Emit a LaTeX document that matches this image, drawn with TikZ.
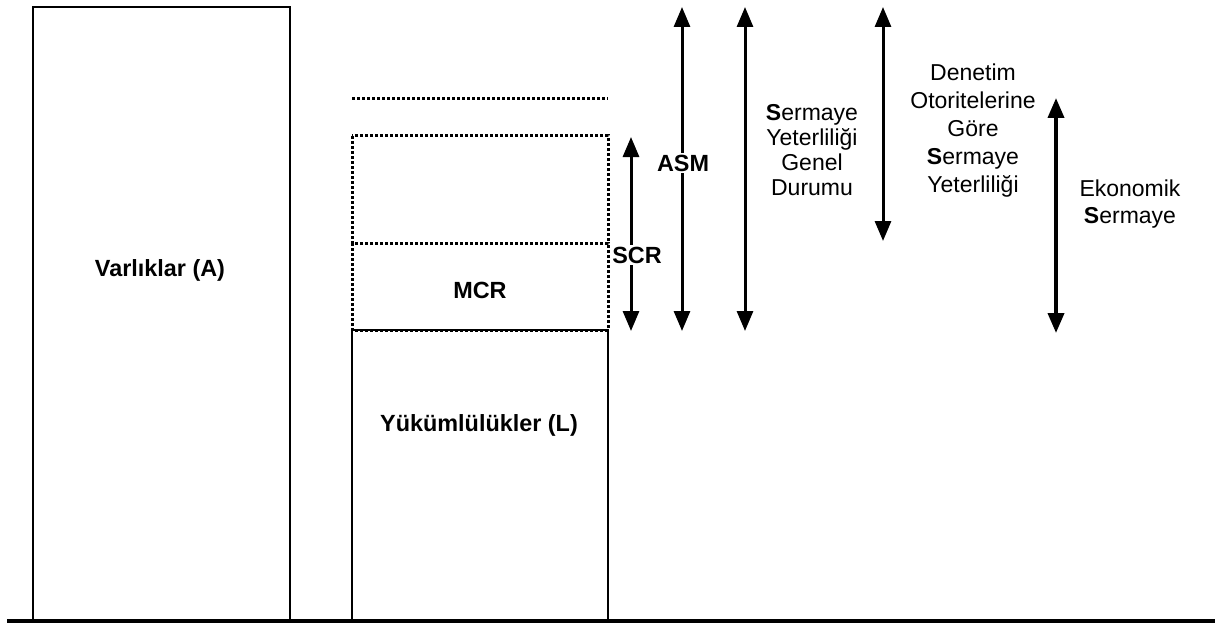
\documentclass[tikz,border=0pt]{standalone}
\usepackage{fontspec}
\setmainfont{Liberation Sans}
\usetikzlibrary{arrows.meta}
\begin{document}
\begin{tikzpicture}[x=1pt,y=-1pt,
  box/.style={draw=black, line width=2pt},
  dotbox/.style={draw=black, line width=3pt, dash pattern=on 2.8pt off 2.2pt},
  dimarrow/.style={line width=3pt,
    {Triangle[width=16pt,length=20pt]}-{Triangle[width=16pt,length=20pt]}},
  lbl/.style={font=\fontsize{23.4}{26}\selectfont\bfseries, inner sep=1.5pt},
  note/.style={font=\fontsize{23}{25}\selectfont, align=center, inner sep=0pt}]
\useasboundingbox (0,0) rectangle (1215,623);

% balance sheet: assets column
\draw[box] (33,621) -- (33,7) -- (290,7) -- (290,621);
\node[lbl] (assets) at (160,270) {Varlıklar (A)};

% liabilities and capital layers
\draw[box] (352,621) -- (352,330) -- (608,330) -- (608,621);
\draw[dotbox] (352,243) rectangle (608,330);
\draw[dotbox] (352,136) rectangle (608,243);
\draw[dotbox] (352,99) -- (608,99);
\node[lbl] (mcr) at (480,290) {MCR};
\node[lbl] (liab) at (479,425) {Yükümlülükler (L)};

% ground line
\coordinate (g0) at (7,621);
\coordinate (g1) at (1215,621);
\draw[line width=3.5pt] (g0) -- (g1);

% capital measures
\coordinate (scrT) at (631,137);
\coordinate (scrB) at (631,331);
\draw[dimarrow] (scrT) -- (scrB);
\node[lbl, fill=white] (scr) at (637,255) {SCR};

\coordinate (asmT) at (682,7);
\coordinate (asmB) at (682,331);
\draw[dimarrow] (asmT) -- (asmB);
\node[lbl, fill=white] (asm) at (683,163) {ASM};

\coordinate (genT) at (745,7);
\coordinate (genB) at (745,331);
\draw[dimarrow] (genT) -- (genB);
\node[note] (gen) at (812,150) {\textbf{S}ermaye\\Yeterliliği\\Genel\\Durumu};

\coordinate (denT) at (883,7);
\coordinate (denB) at (883,241);
\draw[dimarrow] (denT) -- (denB);
\node[note, font=\fontsize{23}{28}\selectfont] (den) at (973,131)
  {Denetim\\Otoritelerine\\Göre\\\textbf{S}ermaye\\Yeterliliği};

\coordinate (ekoT) at (1056,98);
\coordinate (ekoB) at (1056,333);
\draw[dimarrow, line width=3.8pt] (ekoT) -- (ekoB);
\node[note, font=\fontsize{23}{27}\selectfont] (eko) at (1130,204)
  {Ekonomik\\\textbf{S}ermaye};
\end{tikzpicture}
\end{document}
